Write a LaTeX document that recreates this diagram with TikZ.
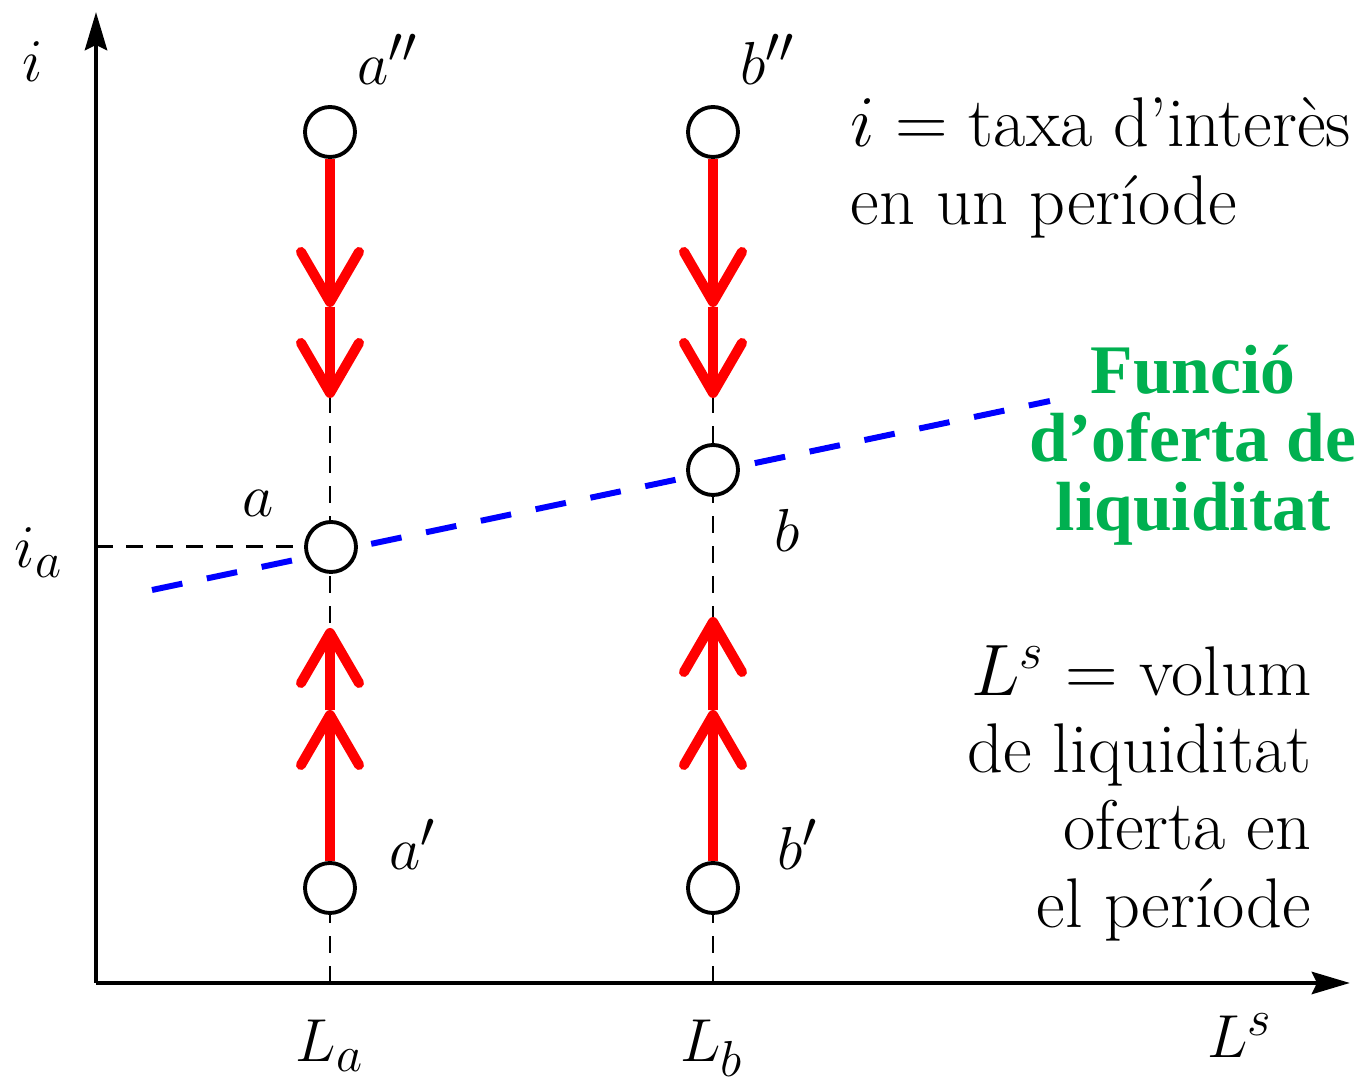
\documentclass[tikz,border=0pt]{standalone}
\usepackage{fontspec}
\newfontfamily\greenfont[Ligatures=TeX]{Liberation Serif}
\usepackage{xcolor}
\definecolor{liqred}{RGB}{255, 0, 0}
\definecolor{liqblue}{RGB}{0, 0, 255}
\definecolor{liqgreen}{RGB}{0, 176, 80}
\usetikzlibrary{arrows.meta}
\tikzset{
  % --- AXES AND GUIDES ---
  axis/.style={
    draw=black,
    line width=1.4pt,
    -{Stealth[length=3.8mm,width=2.2mm,inset=0.5mm]}
  },
  guide-dash/.style={
    draw=black,
    line width=0.85pt,
    dash pattern=on 1.7mm off 1.3mm
  },
  supply-line/.style={
    draw=liqblue,
    line width=1.7pt,
    dash pattern=on 3.1mm off 2.5mm
  },
  % --- POINTS ---
  point/.style={
    circle,
    draw=black,
    fill=white,
    line width=1.1pt,
    minimum size=5mm,
    inner sep=0pt
  },
  % --- ARROWS ---
  red-arrow/.style={
    draw=liqred,
    line width=2.85pt,
    -{Straight Barb[length=5mm,width=5.8mm,round]}
  },
  % --- TEXTS ---
  math-label/.style={
    font=\fontsize{19}{22}\selectfont,
    inner sep=0pt,
    anchor=base
  },
  note-text/.style={
    font=\fontsize{20}{22}\selectfont,
    inner sep=0pt
  },
  green-note/.style={
    font=\fontsize{19.8}{19.5}\selectfont\greenfont\bfseries,
    text=liqgreen,
    inner sep=0pt,
    align=center
  },
}
\begin{document}
\begin{tikzpicture}
  \useasboundingbox (0,0) rectangle (13.61,10.88);
  % --- axes
  \coordinate (origin) at (0.96, 1.05);
  \coordinate (yend)   at (0.96, 10.76);
  \coordinate (xend)   at (13.50, 1.05);
  % --- guide coordinates
  \coordinate (La-foot) at (3.30, 1.05);
  \coordinate (Lb-foot) at (7.13, 1.05);
  \coordinate (a-top)   at (3.30, 6.90);
  \coordinate (b-top)   at (7.13, 6.90);
  \coordinate (ia-foot) at (0.96, 5.41);
  \coordinate (sup-start) at (1.52, 4.98);
  \coordinate (sup-end)   at (10.50, 6.87);
  % --- arrow coordinates
  \coordinate (a-dn-mid) at (3.30, 7.81);
  \coordinate (b-dn-mid) at (7.13, 7.81);
  \coordinate (a-up-mid) at (3.30, 3.78);
  \coordinate (b-up-mid) at (7.13, 3.78);
  \coordinate (a-up-end) at (3.30, 4.60);
  \coordinate (b-up-end) at (7.13, 4.71);
  % --- guides
  \draw[guide-dash] (La-foot) -- (a-top);
  \draw[guide-dash] (Lb-foot) -- (b-top);
  \draw[supply-line] (sup-start) -- (sup-end);
  % --- points
  \node[point] (app) at (3.30, 9.56) {};
  \node[point] (a)   at (3.31, 5.41) {};
  \node[point] (ap)  at (3.30, 2.00) {};
  \node[point] (bpp) at (7.13, 9.56) {};
  \node[point] (b)   at (7.13, 6.18) {};
  \node[point] (bp)  at (7.13, 2.00) {};
  \draw[guide-dash] (ia-foot) -- (a.west);
  % --- red arrows
  \draw[red-arrow] (app) -- (a-dn-mid);
  \draw[red-arrow] (a-dn-mid) -- (a-top);
  \draw[red-arrow] (bpp) -- (b-dn-mid);
  \draw[red-arrow] (b-dn-mid) -- (b-top);
  \draw[red-arrow] (ap) -- (a-up-mid);
  \draw[red-arrow] (a-up-mid) -- (a-up-end);
  \draw[red-arrow] (bp) -- (b-up-mid);
  \draw[red-arrow] (b-up-mid) -- (b-up-end);
  \draw[axis] (origin) -- (yend);
  \draw[axis] (origin) -- (xend);
  % --- labels
  \node[math-label] (i-label)   at (0.33, 10.06) {$i$};
  \node[math-label] (app-label) at (3.88, 10.03) {$a''$};
  \node[math-label] (bpp-label) at (7.68, 10.03) {$b''$};
  \node[math-label] (a-label)   at (2.58, 5.71) {$a$};
  \node[math-label] (b-label)   at (7.87, 5.36) {$b$};
  \node[math-label] (ap-label)  at (4.13, 2.18) {$a'$};
  \node[math-label] (bp-label)  at (7.98, 2.18) {$b'$};
  \node[math-label] (ia-label)  at (0.39, 5.20) {$i_a$};
  \node[math-label] (La-label)  at (3.30, 0.26) {$L_a$};
  \node[math-label] (Lb-label)  at (7.12, 0.26) {$L_b$};
  \node[math-label] (Ls-label)  at (12.40, 0.30) {$L^s$};
  % --- notes
  \node[note-text, anchor=west, align=left] (rate-note) at (8.50, 9.20)
    {$i =$ taxa d'interès\\en un període};
  \node[green-note] (supply-note) at (11.93, 6.43)
    {Funció\\d'oferta de\\liquiditat};
  \node[note-text, anchor=east, align=right] (volume-note) at (13.12, 2.95)
    {$L^s =$ volum\\de liquiditat\\oferta en\\el període};
\end{tikzpicture}
\end{document}
